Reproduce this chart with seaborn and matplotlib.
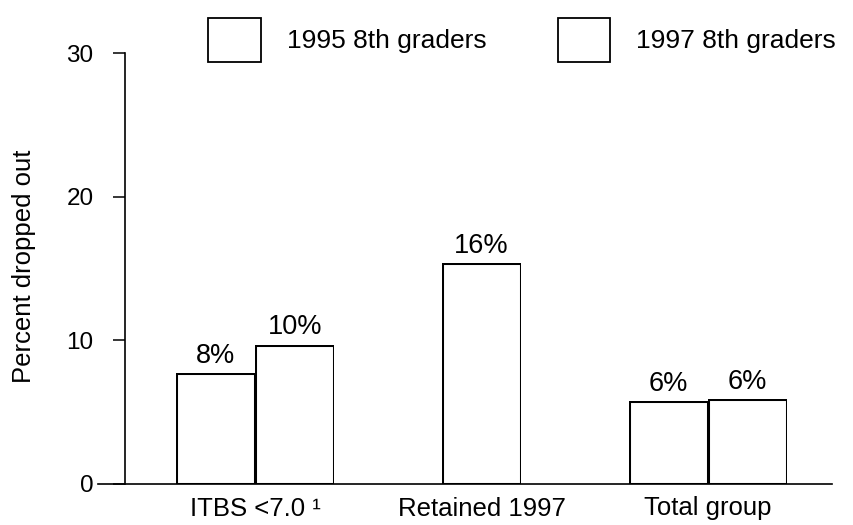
import numpy as np
import pandas as pd
import matplotlib
matplotlib.use("Agg")
import matplotlib.pyplot as plt
from matplotlib.patches import Rectangle
import seaborn as sns
import seaborn.objects as so

# values (percent dropped out)
groups = ["ITBS <7.0 \u00b9", "Retained 1997", "Total group"]
cohorts = ["1995 8th graders", "1997 8th graders"]
pct_1995 = [7.7, np.nan, 5.8]
pct_1997 = [9.7, 15.4, 5.9]
labels_1995 = ["8%", "", "6%"]
labels_1997 = ["10%", "16%", "6%"]

rows = []
for g, a, b, la, lb in zip(groups, pct_1995, pct_1997, labels_1995, labels_1997):
    rows.append({"group": g, "cohort": cohorts[0], "pct": a, "label": la})
    rows.append({"group": g, "cohort": cohorts[1], "pct": b, "label": lb})
df = pd.DataFrame(rows).dropna(subset=["pct"])

fonts = ["Liberation Sans", "DejaVu Sans"]
plt.rcParams["font.family"] = fonts

fig = plt.figure(figsize=(8.54, 5.25), dpi=100)
ax = fig.add_axes([98 / 854, 1 - 484 / 525, 734 / 854, 431 / 525])

(
    so.Plot(df, x="group", y="pct", group="cohort")
    .add(so.Bar(color="white", edgecolor="black", edgewidth=1.1, alpha=1, width=0.7),
         so.Dodge(empty="drop"))
    .theme({"axes.facecolor": "white", "font.family": fonts})
    .on(ax)
    .plot()
)

ax.set_facecolor("white")
ax.grid(False)
ax.set_xlim(-0.693, 2.547)
ax.set_ylim(0, 30)
ax.set_yticks([0, 10, 20, 30])
ax.set_xlabel("")
ax.set_ylabel("Percent dropped out", fontsize=18.5)
ax.yaxis.set_label_coords(-0.085, 0.506)

for s in ["top", "right"]:
    ax.spines[s].set_visible(False)
ax.spines["left"].set_position(("data", -0.574))
ax.spines["left"].set_bounds(0, 30)
for s in ["left", "bottom"]:
    ax.spines[s].set_color("black")
    ax.spines[s].set_linewidth(1.2)

ax.tick_params(axis="y", length=8.6, width=1.1, pad=14, labelsize=17.5, colors="black")
ax.tick_params(axis="x", length=0, pad=9, labelsize=18.5, colors="black")

# percent labels above each bar
for p in ax.patches:
    h = p.get_height()
    row = df.iloc[(df["pct"] - h).abs().argmin()]
    ax.annotate(row["label"], (p.get_x() + p.get_width() / 2, h),
                xytext=(0, 3), textcoords="offset points",
                ha="center", va="bottom", fontsize=19.5)

handles = [Rectangle((0, 0), 1, 1, facecolor="white", edgecolor="black", linewidth=1.3)
           for _ in cohorts]
fig.legend(handles, cohorts, loc="upper left", bbox_to_anchor=(208 / 854, 1 - 18 / 525),
           ncol=2, frameon=False, fontsize=19, handlelength=2.0, handleheight=2.19,
           handletextpad=0.98, columnspacing=2.7, borderpad=0, borderaxespad=0)

fig.savefig("out.png", dpi=100)
